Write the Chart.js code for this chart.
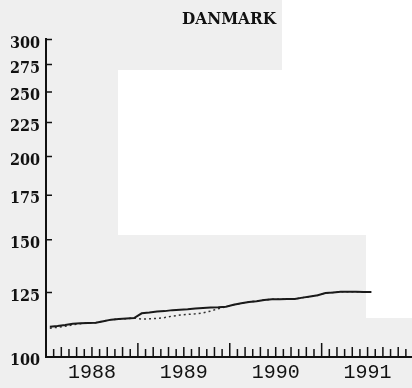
<!DOCTYPE html>
<html>
<head>
<meta charset="utf-8">
<script src="https://cdn.jsdelivr.net/npm/chart.js@4"></script>
<style>
  html, body { margin: 0; padding: 0; background: #efefef; overflow: hidden; }
  #wrap { width: 412px; height: 388px; }
</style>
</head>
<body>
<div id="wrap"><canvas id="chartDanmark"></canvas></div>
<script>
// year labels on the time axis, monthly data from Jan 1988
var years = ['1988', '1989', '1990', '1991'];
var yearCentres = [6, 18, 30, 42];
var yTicks = [100, 125, 150, 175, 200, 225, 250, 275, 300];

// solid series, monthly Jan 1988 - Jul 1991
var solidValues = [
  111.0, 111.3, 111.7, 112.2, 112.4, 112.5, 112.6, 113.2, 113.8, 114.0, 114.2, 114.4,
  116.3, 116.6, 117.0, 117.2, 117.6, 117.8, 118.0, 118.3, 118.5, 118.7, 118.8, 119.0,
  119.8, 120.4, 121.0, 121.3, 121.8, 122.1, 122.1, 122.2, 122.2, 122.8, 123.3, 123.8,
  124.8, 125.0, 125.3, 125.3, 125.3, 125.2, 125.2
];
// dotted series
var dottedValues = [
  110.5, 110.8, 111.2, 111.8, 112.2, 112.5, 112.6, 113.2, 113.8, 114.0, 114.2, 114.4,
  114.0, 114.1, 114.3, 114.6, 115.2, 115.6, 115.9, 116.1, 116.5, 117.2, 118.2, 119.0,
  119.8, 120.4, 121.0, 121.3, 121.8, 122.1, 122.1, 122.2, 122.2, 122.8, 123.3, 123.8,
  124.8, 125.0, 125.3, 125.3, 125.3, 125.2, 125.2
];

function toPoints(values) {
  return values.map(function (v, i) { return { x: i + 0.5, y: v }; });
}

// scan-like background patches
var backdrop = {
  id: 'backdrop',
  beforeDraw: function (chart) {
    var c = chart.ctx;
    c.save();
    c.fillStyle = '#efefef';
    c.fillRect(0, 0, chart.width, chart.height);
    c.fillStyle = '#ffffff';
    c.fillRect(282, 0, 130, 70);
    c.fillRect(118, 70, 294, 165);
    c.fillRect(366, 235, 46, 83);
    c.restore();
  }
};

// inward tick marks like the original
var innerTicks = {
  id: 'innerTicks',
  afterDraw: function (chart) {
    var c = chart.ctx, xs = chart.scales.x, ys = chart.scales.y, area = chart.chartArea;
    c.save();
    c.strokeStyle = '#111';
    c.lineWidth = 1.5;
    c.beginPath();
    for (var m = 1; m < 48; m++) {
      var px = xs.getPixelForValue(m);
      var h = (m % 12 === 0) ? 14 : (m % 2 ? 8 : 10);
      c.moveTo(px, area.bottom);
      c.lineTo(px, area.bottom - h);
    }
    yTicks.forEach(function (v) {
      var py = ys.getPixelForValue(v);
      c.moveTo(area.left, py);
      c.lineTo(area.left + 6, py);
    });
    c.stroke();
    c.restore();
  }
};

var ctx = document.getElementById('chartDanmark').getContext('2d');
var chartDanmark = new Chart(ctx, {
  type: 'line',
  data: {
    datasets: [{
      label: 'solid',
      data: toPoints(solidValues),
      borderColor: '#1a1a1a',
      borderWidth: 2,
      pointRadius: 0,
      tension: 0,
      order: 0
    }, {
      label: 'dotted',
      data: toPoints(dottedValues),
      borderColor: '#333',
      borderWidth: 1.5,
      borderDash: [2, 3],
      pointRadius: 0,
      tension: 0,
      order: 1
    }]
  },
  options: {
    responsive: true,
    maintainAspectRatio: false,
    animation: false,
    layout: { padding: 0 },
    scales: {
      x: {
        type: 'linear',
        min: 0,
        max: 47.8,
        grid: { display: false, drawTicks: false },
        border: { color: '#111', width: 2 },
        afterBuildTicks: function (scale) {
          scale.ticks = yearCentres.map(function (v) { return { value: v }; });
        },
        afterFit: function (scale) { scale.height = 31; },
        ticks: {
          padding: 4,
          maxRotation: 0,
          autoSkip: false,
          color: '#111',
          font: { family: "'Liberation Mono', monospace", size: 20 },
          callback: function (value) {
            return years[yearCentres.indexOf(value)];
          }
        }
      },
      y: {
        type: 'logarithmic',
        min: 100,
        max: 300,
        grid: { display: false, drawTicks: false },
        border: { color: '#111', width: 2 },
        afterBuildTicks: function (scale) {
          scale.ticks = yTicks.map(function (v) { return { value: v }; });
        },
        afterFit: function (scale) { scale.width = 46; },
        ticks: {
          padding: 6,
          labelOffset: 4,
          autoSkip: false,
          color: '#111',
          font: { family: "'DejaVu Serif Condensed', 'Liberation Serif', serif", size: 16, weight: 'bold' },
          callback: function (value) { return value; }
        }
      }
    },
    plugins: {
      legend: { display: false },
      tooltip: { enabled: false },
      title: {
        display: true,
        text: 'DANMARK',
        fullSize: false,
        color: '#111',
        font: { family: "'DejaVu Serif Condensed', 'Liberation Serif', serif", size: 17, weight: 'bold', lineHeight: 1.2 },
        padding: { top: 9, bottom: 10 }
      }
    }
  },
  plugins: [backdrop, innerTicks]
});
</script>
</body>
</html>
